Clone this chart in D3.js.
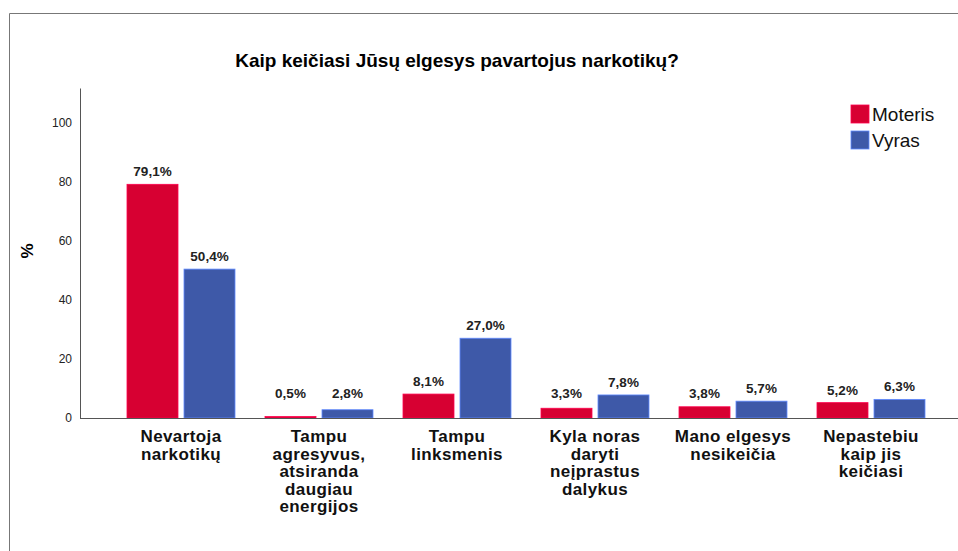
<!DOCTYPE html>
<html>
<head>
<meta charset="utf-8">
<script src="https://cdn.jsdelivr.net/npm/d3@7"></script>
<style>
  body { margin: 0; background: #fff; }
  text { font-family: "Liberation Sans", Arial, sans-serif; }
</style>
</head>
<body>
<svg width="958" height="551"></svg>
<script>
var categories = [
  ["Nevartoja", "narkotikų"],
  ["Tampu", "agresyvus,", "atsiranda", "daugiau", "energijos"],
  ["Tampu", "linksmenis"],
  ["Kyla noras", "daryti", "neįprastus", "dalykus"],
  ["Mano elgesys", "nesikeičia"],
  ["Nepastebiu", "kaip jis", "keičiasi"]
];
var series = ["Moteris", "Vyras"];
var moteris = [79.1, 0.5, 8.1, 3.3, 3.8, 5.2];
var vyras = [50.4, 2.8, 27.0, 7.8, 5.7, 6.3];
var yTicks = [0, 20, 40, 60, 80, 100];

var colors = { Moteris: "#d70032", Vyras: "#3e59a8" };

var svg = d3.select("svg");

// outer frame (left and top edges only are visible)
svg.append("path")
  .attr("d", "M9.5,551 V13.5 H958")
  .attr("fill", "none")
  .attr("stroke", "#777")
  .attr("stroke-width", 1);

var rows = categories.map(function (c, i) {
  return { idx: i, lines: c, values: [moteris[i], vyras[i]] };
});

var x0 = d3.scaleBand().domain(d3.range(categories.length)).range([112, 940]);
var x1 = d3.scaleBand().domain(series).range([15, 123]).paddingInner(6 / 57);
var y = d3.scaleLinear().domain([0, 111.7]).range([418, 88]);

// title
svg.append("text")
  .attr("x", 457)
  .attr("y", 67)
  .attr("text-anchor", "middle")
  .attr("font-size", 19)
  .attr("font-weight", "bold")
  .text("Kaip keičiasi Jūsų elgesys pavartojus narkotikų?");

// y axis
var yAxis = svg.append("g")
  .attr("transform", "translate(80,0)")
  .call(d3.axisLeft(y).tickValues(yTicks).tickSize(0).tickPadding(8));
yAxis.select(".domain").attr("stroke", "#555");
yAxis.selectAll("text").attr("font-size", 12).attr("fill", "#222")
  .style("font-family", "Liberation Sans, Arial, sans-serif");

svg.append("text")
  .attr("transform", "translate(33,251) rotate(-90)")
  .attr("text-anchor", "middle")
  .attr("font-size", 17)
  .attr("font-weight", "bold")
  .text("%");

// bars
var group = svg.append("g").selectAll("g")
  .data(rows)
  .enter()
  .append("g")
  .attr("transform", function (d) { return "translate(" + x0(d.idx) + ",0)"; });

var cells = group.selectAll("g")
  .data(function (d) {
    return series.map(function (s, j) { return { key: s, value: d.values[j] }; });
  })
  .enter()
  .append("g");

cells.append("rect")
  .attr("x", function (d) { return x1(d.key); })
  .attr("y", function (d) { return y(d.value); })
  .attr("width", x1.bandwidth())
  .attr("height", function (d) { return y(0) - y(d.value); })
  .attr("fill", function (d) { return colors[d.key]; })
  .attr("stroke", function (d) { return d3.color(colors[d.key]).brighter(1.2); })
  .attr("stroke-width", 0.8);

// small bars keep their label a bit higher, like the original
cells.append("text")
  .attr("x", function (d) { return x1(d.key) + x1.bandwidth() / 2; })
  .attr("y", function (d) { return Math.min(y(d.value) - 8, 398); })
  .attr("text-anchor", "middle")
  .attr("font-size", 13.5)
  .attr("font-weight", "bold")
  .attr("fill", "#222")
  .text(function (d) { return d.value.toFixed(1).replace(".", ",") + "%"; });

// x axis line
svg.append("line")
  .attr("x1", 80).attr("x2", 958)
  .attr("y1", y(0) + 0.5).attr("y2", y(0) + 0.5)
  .attr("stroke", "#555");

// category labels
var labels = svg.append("g").selectAll("text")
  .data(rows)
  .enter()
  .append("text")
  .attr("text-anchor", "middle")
  .attr("font-size", 17)
  .attr("font-weight", "bold")
  .attr("letter-spacing", 0.4)
  .attr("fill", "#111")
  .attr("transform", function (d) {
    return "translate(" + (x0(d.idx) + x0.bandwidth() / 2) + ",442)";
  });

labels.selectAll("tspan")
  .data(function (d) { return d.lines; })
  .enter()
  .append("tspan")
  .attr("x", 0)
  .attr("dy", function (d, i) { return i === 0 ? 0 : 17.5; })
  .text(function (d) { return d; });

// legend
var legend = svg.append("g").selectAll("g")
  .data(series)
  .enter()
  .append("g")
  .attr("transform", function (d, i) { return "translate(851," + (105 + i * 26) + ")"; });

legend.append("rect")
  .attr("width", 18).attr("height", 18)
  .attr("fill", function (d) { return colors[d]; })
  .attr("stroke", function (d) { return d3.color(colors[d]).brighter(1.2); })
  .attr("stroke-width", 0.8);

legend.append("text")
  .attr("x", 21)
  .attr("y", 16)
  .attr("font-size", 19)
  .attr("fill", "#111")
  .text(function (d) { return d; });
</script>
</body>
</html>
